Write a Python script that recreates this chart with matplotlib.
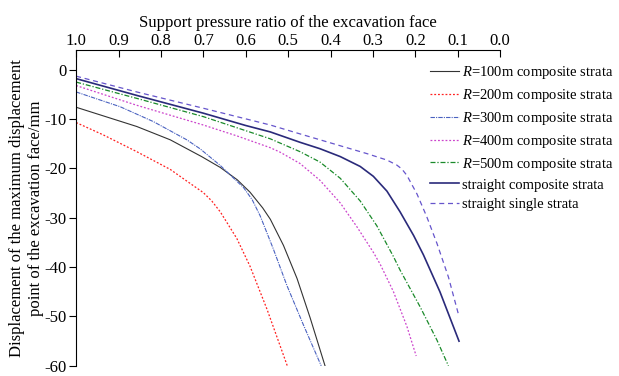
import matplotlib.pyplot as plt

plt.rcParams['font.family'] = ['Liberation Serif', 'DejaVu Serif']
plt.rcParams['mathtext.fontset'] = 'custom'
plt.rcParams['mathtext.it'] = 'Liberation Serif:italic'
plt.rcParams['mathtext.rm'] = 'Liberation Serif'
plt.rcParams['axes.unicode_minus'] = False

# support pressure ratio / displacement (mm) for each case
r100_x = [1.0, 0.857, 0.778, 0.704, 0.66, 0.62, 0.59, 0.56, 0.542, 0.511, 0.479, 0.448, 0.413]
r100_y = [-7.6, -11.5, -14.2, -17.6, -19.8, -22.3, -24.8, -28.0, -30.3, -35.6, -42.3, -50.3, -60.0]

r200_x = [1.0, 0.936, 0.857, 0.778, 0.74, 0.70, 0.68, 0.66, 0.621, 0.59, 0.55, 0.502]
r200_y = [-10.7, -13.2, -16.6, -20.2, -22.5, -24.9, -26.6, -28.8, -34.2, -39.8, -48.5, -60.0]

r300_x = [1.0, 0.896, 0.818, 0.739, 0.708, 0.66, 0.605, 0.585, 0.566, 0.535, 0.503, 0.464, 0.422]
r300_y = [-4.5, -7.5, -10.5, -14.2, -16.0, -19.4, -23.9, -26.3, -29.6, -36.3, -43.7, -51.7, -60.0]

r400_x = [1.0, 0.857, 0.70, 0.621, 0.542, 0.519, 0.472, 0.425, 0.377, 0.338, 0.299,
          0.283, 0.252, 0.22, 0.198]
r400_y = [-3.2, -7.2, -11.2, -13.4, -15.8, -16.7, -19.0, -22.4, -27.0, -31.8, -37.0,
          -39.4, -44.9, -52.0, -58.0]

r500_x = [1.0, 0.857, 0.70, 0.542, 0.472, 0.425, 0.377, 0.33, 0.291, 0.252, 0.236,
          0.189, 0.149, 0.122]
r500_y = [-2.5, -5.8, -9.5, -14.0, -16.6, -18.7, -22.0, -26.6, -31.6, -37.8, -40.6,
          -48.0, -54.8, -60.0]

sc_x = [1.0, 0.857, 0.70, 0.60, 0.542, 0.472, 0.425, 0.377, 0.33, 0.299, 0.267,
        0.236, 0.204, 0.181, 0.142, 0.097]
sc_y = [-1.8, -5.2, -8.8, -11.3, -12.6, -14.7, -16.0, -17.6, -19.6, -21.6, -24.6,
        -28.8, -33.6, -37.5, -45.0, -55.0]

ss_x = [1.0, 0.857, 0.70, 0.542, 0.472, 0.393, 0.314, 0.267, 0.244, 0.232, 0.22,
        0.196, 0.173, 0.149, 0.122, 0.097]
ss_y = [-1.3, -4.5, -7.8, -11.2, -13.0, -15.0, -17.0, -18.3, -19.3, -20.1, -21.4,
        -25.2, -29.8, -35.2, -42.0, -50.0]

xticks = [1.0, 0.9, 0.8, 0.7, 0.6, 0.5, 0.4, 0.3, 0.2, 0.1, 0.0]
yticks = [0, -10, -20, -30, -40, -50, -60]

fig = plt.figure(figsize=(6.19, 3.76), dpi=100)
ax = fig.add_axes([0.123, 0.027, 0.685, 0.840])

ax.plot(r100_x, r100_y, color='#333333', lw=0.8, ls='-', label='$R$=100m composite strata')
ax.plot(r200_x, r200_y, color='#ff2020', lw=0.9, ls=(0, (1.5, 1.5)), label='$R$=200m composite strata')
ax.plot(r300_x, r300_y, color='#4a62c0', lw=0.8, ls=(0, (4, 1, 1, 1)), label='$R$=300m composite strata')
ax.plot(r400_x, r400_y, color='#cc44cc', lw=0.9, ls=(0, (1.5, 1.5)), label='$R$=400m composite strata')
ax.plot(r500_x, r500_y, color='#1a8a2a', lw=0.9, ls=(0, (4, 1.5, 1, 1.5)), label='$R$=500m composite strata')
ax.plot(sc_x, sc_y, color='#2a2a7a', lw=1.2, ls='-', label='straight composite strata')
ax.plot(ss_x, ss_y, color='#6655cc', lw=0.9, ls=(0, (4, 3)), label='straight single strata')

ax.set_xlim(1.0, 0.0)
ax.set_ylim(-60, 4)
ax.set_xticks(xticks)
ax.set_yticks(yticks)
ax.xaxis.tick_top()
ax.xaxis.set_label_position('top')
ax.tick_params(axis='x', direction='in', length=5, labelsize=12, pad=1)
ax.tick_params(axis='y', direction='out', length=5, labelsize=12, pad=2)
ax.spines['right'].set_visible(False)
ax.spines['bottom'].set_visible(False)

ax.set_xlabel('Support pressure ratio of the excavation face', fontsize=12, labelpad=4)
ax.set_ylabel('Displacement of the maximum displacement\npoint of the excavation face/mm',
              fontsize=12, linespacing=1.3, labelpad=0)

ax.legend(loc='upper left', bbox_to_anchor=(0.835, 0.955), frameon=False, fontsize=10.5,
          handlelength=2.0, handletextpad=0.15, labelspacing=0.4, borderaxespad=0,
          borderpad=0)

fig.savefig('out.png', dpi=100)
